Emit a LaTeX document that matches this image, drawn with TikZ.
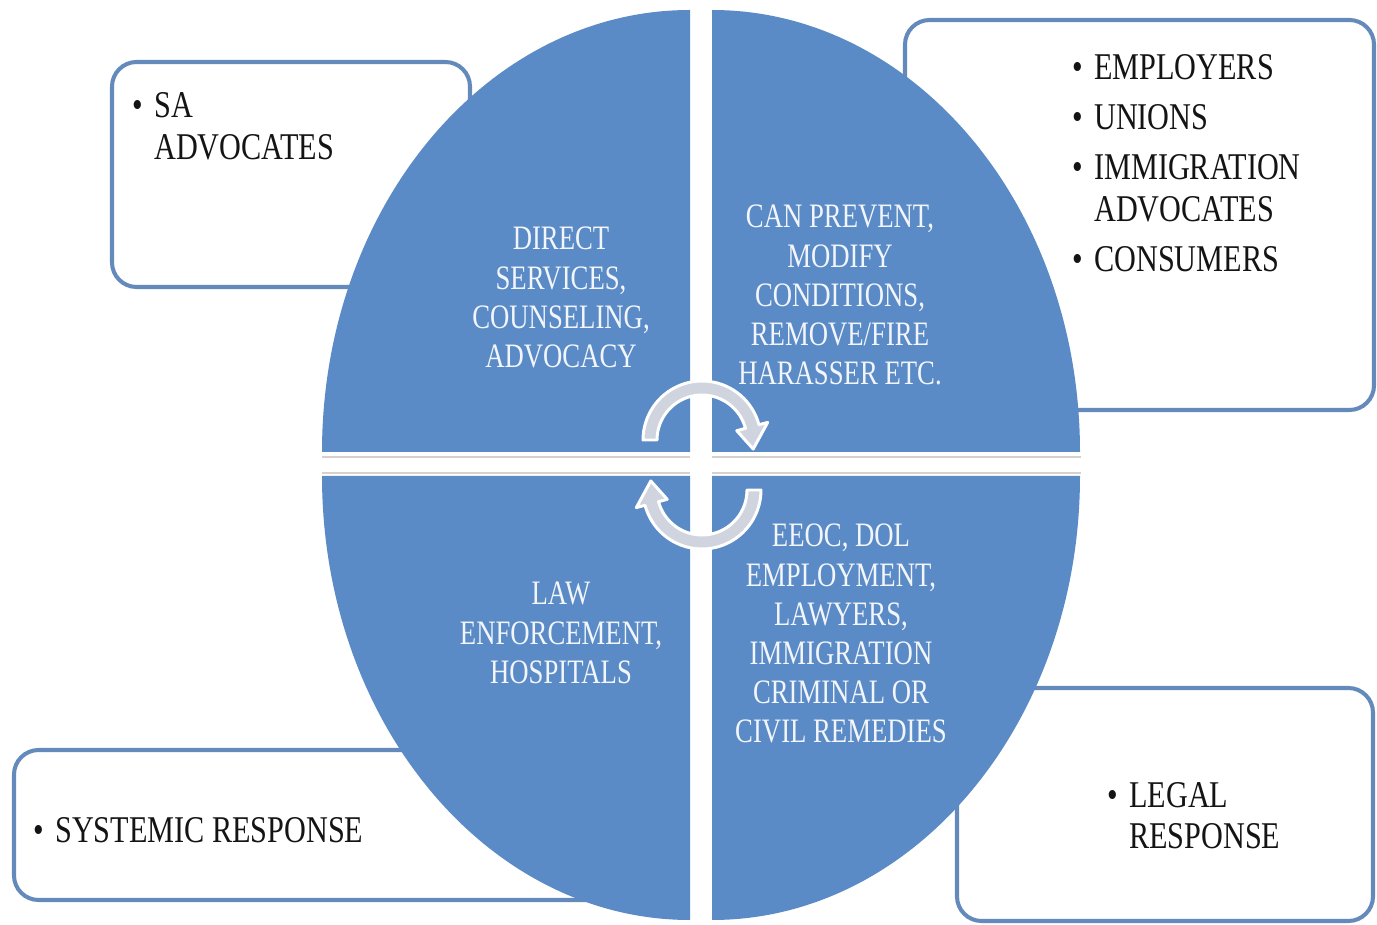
\documentclass[tikz,border=0pt]{standalone}
\usepackage{fontspec}
\setmainfont{Liberation Serif}
\newfontfamily\condserif[FakeStretch=0.78]{Liberation Serif}
\newfontfamily\boxserif[FakeStretch=0.8]{Liberation Serif}

\definecolor{quadblue}{RGB}{90,139,198}
\definecolor{boxblue}{RGB}{100,138,188}
\definecolor{quadtextcol}{RGB}{242,245,250}
\definecolor{arrowgray}{RGB}{208,212,222}
\definecolor{shadowgray}{RGB}{214,208,206}

\begin{document}
\begin{tikzpicture}[x=0.02cm,y=-0.02cm,
  quadrant/.style={fill=quadblue},
  shadowline/.style={draw=shadowgray, line width=1pt},
  sidebox/.style={draw=boxblue, line width=2.3pt, fill=white, rounded corners=14pt},
  quadtext/.style={anchor=base, inner sep=0pt, text=quadtextcol,
    font=\condserif\fontsize{19.5}{22.3}\selectfont},
  boxtext/.style={anchor=base west, inner sep=0pt, text=black!92,
    font=\boxserif\fontsize{21.5}{23.6}\selectfont},
  cyclearrow/.style={fill=arrowgray, draw=white, line width=1.7pt, line join=round}]

\useasboundingbox (0,0) rectangle (1377,925);
\fill[white] (0,0) rectangle (1377,925);

% side boxes behind the circle
\draw[sidebox] (112,62) rectangle (470,287);
\draw[sidebox] (905,20) rectangle (1374,410);
\draw[sidebox] (14,750) rectangle (610,900);
\draw[sidebox] (957,688) rectangle (1373,921);

% faint edges along the horizontal gap
\draw[shadowline] (322,457) -- (690,457);
\draw[shadowline] (712,457) -- (1081,457);
\draw[shadowline] (322,473) -- (690,473);
\draw[shadowline] (712,473) -- (1081,473);

% four quarter ellipses
\fill[quadrant] (690,452) -- (322,452) arc[start angle=180,end angle=270,x radius=368,y radius=442] -- cycle;
\fill[quadrant] (712,452) -- (712,10) arc[start angle=270,end angle=360,x radius=368,y radius=442] -- cycle;
\fill[quadrant] (712,476) -- (1080,476) arc[start angle=0,end angle=90,x radius=368,y radius=444] -- cycle;
\fill[quadrant] (690,476) -- (690,920) arc[start angle=90,end angle=180,x radius=368,y radius=444] -- cycle;

% quadrant labels
\node[quadtext] (qtl) at (561,250) {\begin{tabular}[t]{@{}c@{}}DIRECT\\SERVICES,\\COUNSELING,\\ADVOCACY\end{tabular}};
\node[quadtext] (qtr) at (840,228) {\begin{tabular}[t]{@{}c@{}}CAN PREVENT,\\MODIFY\\CONDITIONS,\\REMOVE/FIRE\\HARASSER ETC.\end{tabular}};
\node[quadtext] (qbl) at (561,605) {\begin{tabular}[t]{@{}c@{}}LAW\\ENFORCEMENT,\\HOSPITALS\end{tabular}};
\node[quadtext] (qbr) at (841,547) {\begin{tabular}[t]{@{}c@{}}EEOC, DOL\\EMPLOYMENT,\\LAWYERS,\\IMMIGRATION\\CRIMINAL OR\\CIVIL REMEDIES\end{tabular}};

% box labels
\node[boxtext] (btl) at (132,118) {\begin{tabular}[t]{@{}p{12.5pt}@{}l@{}}\textbullet & SA\\ & ADVOCATES\end{tabular}};
\node[boxtext] (btr) at (1072,80) {\begin{tabular}[t]{@{}p{12.5pt}@{}l@{}}\textbullet & EMPLOYERS\\[4.8pt]\textbullet & UNIONS\\[4.8pt]\textbullet & IMMIGRATION\\ & ADVOCATES\\[4.8pt]\textbullet & CONSUMERS\end{tabular}};
\node[boxtext] (bbl) at (33,843) {\begin{tabular}[t]{@{}p{12.5pt}@{}l@{}}\textbullet & SYSTEMIC RESPONSE\end{tabular}};
\node[boxtext] (bbr) at (1107,807) {\begin{tabular}[t]{@{}p{12.5pt}@{}l@{}}\textbullet & LEGAL\\ & RESPONSE\end{tabular}};

% two clockwise cycle arrows in the centre
\filldraw[cyclearrow]
  plot[domain=180:345,samples=40,variable=\t] ({702+59*cos(\t)},{440+59*sin(\t)})
  -- ({702+68*cos(345)},{440+68*sin(345)})
  -- ({702+52*cos(370)},{440+52*sin(370)})
  -- ({702+36*cos(345)},{440+36*sin(345)})
  -- plot[domain=345:180,samples=40,variable=\t] ({702+45*cos(\t)},{440+45*sin(\t)})
  -- cycle;
\filldraw[cyclearrow]
  plot[domain=0:165,samples=40,variable=\t] ({702+59*cos(\t)},{490+59*sin(\t)})
  -- ({702+68*cos(165)},{490+68*sin(165)})
  -- ({702+52*cos(190)},{490+52*sin(190)})
  -- ({702+36*cos(165)},{490+36*sin(165)})
  -- plot[domain=165:0,samples=40,variable=\t] ({702+45*cos(\t)},{490+45*sin(\t)})
  -- cycle;
\end{tikzpicture}
\end{document}
